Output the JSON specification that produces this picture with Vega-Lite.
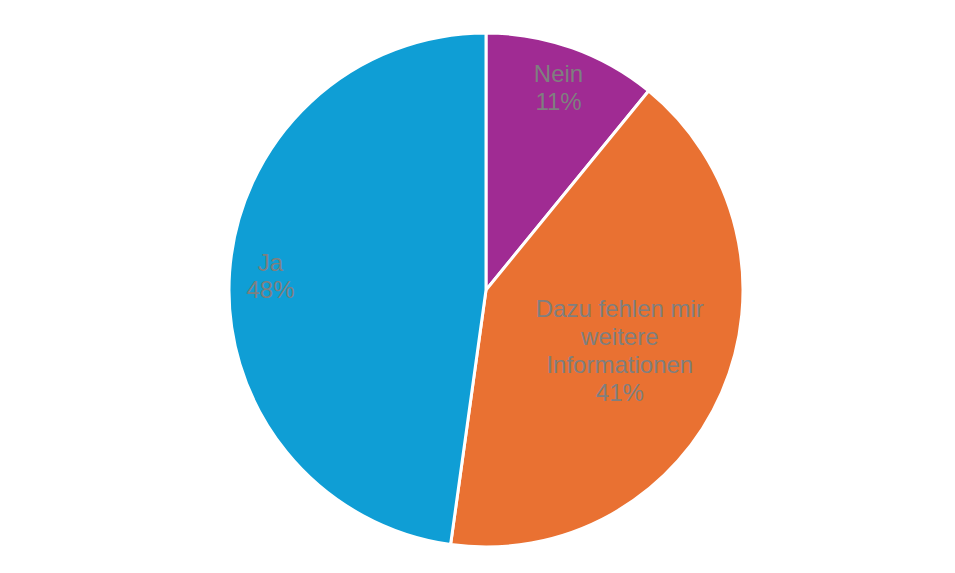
{
  "$schema": "https://vega.github.io/schema/vega-lite/v6.json",
  "width": 938,
  "height": 566,
  "padding": {"left": 17, "top": 7, "right": 0, "bottom": 0},
  "autosize": {"type": "none"},
  "background": "white",
  "config": {"view": {"stroke": null}},
  "data": {
    "values": [
      {"category": "Nein", "value": 10.9, "label": "Nein\n11%"},
      {"category": "Dazu fehlen mir weitere Informationen", "value": 41.3, "label": "Dazu fehlen mir\nweitere\nInformationen\n41%"},
      {"category": "Ja", "value": 47.8, "label": "Ja\n48%"}
    ]
  },
  "encoding": {
    "theta": {"field": "value", "type": "quantitative", "stack": true},
    "order": {"field": "value", "type": "quantitative", "sort": "ascending"}
  },
  "layer": [
    {
      "mark": {"type": "arc", "radius": 257, "stroke": "white", "strokeWidth": 3},
      "encoding": {
        "color": {
          "field": "category",
          "type": "nominal",
          "scale": {
            "domain": ["Nein", "Dazu fehlen mir weitere Informationen", "Ja"],
            "range": ["#A02B93", "#E97132", "#0F9ED5"]
          },
          "legend": null
        }
      }
    },
    {
      "mark": {"type": "text", "radius": 216, "dy": -11.5, "font": "Liberation Sans", "fontSize": 24, "lineHeight": 27.8, "lineBreak": "\n", "color": "#7f7f7f", "align": "center", "baseline": "middle"},
      "encoding": {
        "text": {"condition": {"test": "datum.category !== 'Dazu fehlen mir weitere Informationen'", "field": "label"}, "value": ""}
      }
    },
    {
      "mark": {"type": "text", "radius": 146, "dy": -38, "font": "Liberation Sans", "fontSize": 24, "lineHeight": 27.8, "lineBreak": "\n", "color": "#7f7f7f", "align": "center", "baseline": "middle"},
      "encoding": {
        "text": {"condition": {"test": "datum.category === 'Dazu fehlen mir weitere Informationen'", "field": "label"}, "value": ""}
      }
    }
  ]
}
